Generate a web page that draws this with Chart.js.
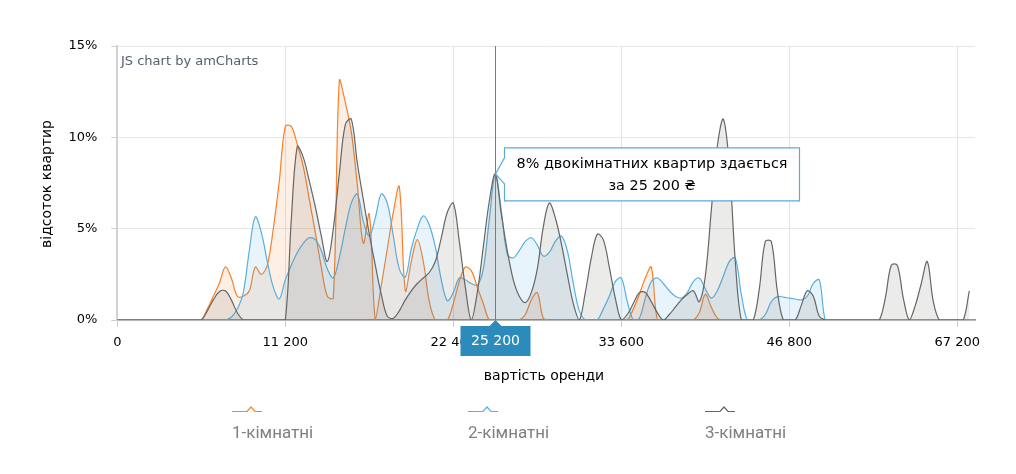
<!DOCTYPE html>
<html>
<head>
<meta charset="utf-8">
<script src="https://cdn.jsdelivr.net/npm/chart.js@4"></script>
<style>
  body { margin: 0; background: #fff; }
  #wrap { width: 1016px; height: 474px; position: relative; }
</style>
</head>
<body>
<div id="wrap"><canvas id="myChart" width="1016" height="474"></canvas></div>
<script>
// rent values (categories)
const rents = [
    0, 400, 800, 1200, 1600, 2000, 2400, 2800, 3200, 3600,
    4000, 4400, 4800, 5200, 5600, 6000, 6400, 6800, 7200, 7600,
    8000, 8400, 8800, 9200, 9600, 10000, 10400, 10800, 11200, 11600,
    12000, 12400, 12800, 13200, 13600, 14000, 14400, 14800, 15200, 15600,
    16000, 16400, 16800, 17200, 17600, 18000, 18400, 18800, 19200, 19600,
    20000, 20400, 20800, 21200, 21600, 22000, 22400, 22800, 23200, 23600,
    24000, 24400, 24800, 25200, 25600, 26000, 26400, 26800, 27200, 27600,
    28000, 28400, 28800, 29200, 29600, 30000, 30400, 30800, 31200, 31600,
    32000, 32400, 32800, 33200, 33600, 34000, 34400, 34800, 35200, 35600,
    36000, 36400, 36800, 37200, 37600, 38000, 38400, 38800, 39200, 39600,
    40000, 40400, 40800, 41200, 41600, 42000, 42400, 42800, 43200, 44000,
    44800, 45600, 46800, 47200, 47600, 48000, 48400, 48800, 49200, 49600,
    50000, 50400, 50800, 51200, 52000, 52800, 53600, 54400, 55200, 56000,
    57600, 58400, 59200, 60000, 60800, 62400, 63200, 64000, 64800, 66000,
    67200, 68000, 69600, 72000
];

const tickRents = [0, 11200, 22400, 33600, 46800, 67200];

// % of flats per rent value
const oneRoom = [
    0, 0, 0, 0, 0, 0, 0, 0, 0, 0,
    0, 0, 0, 0, 0, 0.6, 1.3, 2.0, 2.9, 2.3,
    1.3, 1.3, 1.6, 2.9, 2.5, 3.0, 5.0, 7.6, 10.6, 10.6,
    9.6, 8.4, 6.6, 4.8, 2.9, 1.3, 1.2, 13.1, 11.9, 10.3,
    7.4, 4.2, 5.8, 0, 1.9, 3.9, 5.9, 7.3, 1.6, 3.2,
    4.4, 3.2, 1.0, 0, 0, 0, 0.9, 2.1, 2.9, 2.7,
    1.8, 0.9, 0, 0, 0, 0, 0, 0, 0.3, 1.1,
    1.5, 0.1, 0, 0, 0, 0, 0, 0, 0, 0,
    0, 0, 0, 0, 0, 0, 0.6, 1.4, 2.3, 2.9,
    0, 0, 0, 0, 0, 0, 0, 0.4, 1.4, 0.7,
    0.1, 0, 0, 0, 0, 0, 0, 0, 0, 0,
    0, 0, 0, 0, 0, 0, 0, 0, 0, 0,
    0, 0, 0, 0, 0, 0, 0, 0, 0, 0,
    0, 0, 0, 0, 0, 0, 0, 0, 0, 0,
    0, 0, 0, 0
];

const twoRoom = [
    0, 0, 0, 0, 0, 0, 0, 0, 0, 0,
    0, 0, 0, 0, 0, 0, 0, 0, 0, 0.15,
    0.6, 1.5, 3.8, 5.65, 4.8, 3.2, 1.8, 1.15, 2.2, 3.0,
    3.7, 4.2, 4.5, 4.4, 3.8, 2.8, 2.3, 3.4, 5.0, 6.4,
    6.9, 5.4, 4.6, 5.6, 6.9, 6.4, 4.6, 2.8, 2.35, 3.9,
    5.0, 5.7, 5.2, 4.0, 2.2, 1.05, 1.5, 2.3, 2.2, 2.0,
    1.9, 2.8, 5.5, 8.0, 6.0, 3.6, 3.4, 3.8, 4.3, 4.5,
    4.1, 3.5, 3.7, 4.3, 4.6, 3.8, 2.0, 0.5, 0, 0,
    0, 0.6, 1.3, 2.1, 2.3, 1.0, 0, 0.1, 1.2, 2.1,
    2.3, 2.0, 1.6, 1.3, 1.2, 1.5, 2.1, 2.3, 1.7, 1.2,
    1.6, 2.4, 3.2, 3.4, 1.4, 0, 0, 0, 0.3, 1.0,
    1.28, 1.25, 1.2, 1.15, 1.1, 1.3, 2.0, 2.2, 0, 0,
    0, 0, 0, 0, 0, 0, 0, 0, 0, 0,
    0, 0, 0, 0, 0, 0, 0, 0, 0, 0,
    0, 0, 0, 0
];

const threeRoom = [
    0, 0, 0, 0, 0, 0, 0, 0, 0, 0,
    0, 0, 0, 0, 0, 0.5, 1.1, 1.55, 1.6, 1.1,
    0.4, 0, 0, 0, 0, 0, 0, 0, 0, 5.5,
    9.5, 8.9, 7.6, 6.2, 4.6, 3.2, 5.0, 8.0, 10.7, 11.0,
    8.6, 6.6, 4.7, 3.0, 1.4, 0.2, 0.1, 0.5, 1.1, 1.6,
    2.0, 2.3, 2.6, 3.2, 4.5, 5.9, 6.4, 4.3, 1.8, 0,
    1.5, 4.0, 6.5, 8.0, 5.8, 3.8, 2.2, 1.3, 0.95, 1.5,
    2.8, 5.1, 6.4, 5.6, 4.2, 2.5, 0.9, 0, 1.5, 3.4,
    4.7, 4.4, 2.9, 1.2, 0, 0.3, 0.9, 1.5, 1.5, 1.0,
    0.4, 0, 0.3, 0.7, 1.1, 1.4, 1.6, 1.0, 2.4, 6.0,
    9.5, 11.0, 8.5, 3.2, 0, 0, 0, 1.7, 4.3, 4.3,
    1.6, 0, 0, 0, 0.8, 1.6, 1.3, 0.2, 0, 0,
    0, 0, 0, 0, 0, 0, 0, 0, 1.2, 3.0,
    3.0, 1.2, 0, 0.8, 2.0, 3.2, 1.0, 0, 0, 0,
    0, 0, 1.6, null
];

const seriesNames = ["1-кімнатні", "2-кімнатні", "3-кімнатні"];
const seriesColors = ["#f5822d", "#5aafe0", "#666666"];
const seriesFills = ["rgba(245,130,45,0.13)", "rgba(90,175,224,0.14)", "rgba(100,100,90,0.13)"];

const cursorRent = 25200;

function fmt(n) {
    return n.toString().replace(/\B(?=(\d{3})+(?!\d))/g, " ");
}

const FONT = "'DejaVu Sans', Verdana, sans-serif";

const extras = {
    id: "extras",
    afterDraw(chart) {
        const ctx = chart.ctx;
        const xs = chart.scales.x, ys = chart.scales.y;
        const area = chart.chartArea;
        ctx.save();

        // watermark
        ctx.font = "13px " + FONT;
        ctx.fillStyle = "#54606e";
        ctx.textAlign = "left";
        ctx.textBaseline = "middle";
        ctx.fillText("JS chart by amCharts", 121, 62);

        // axis titles
        ctx.fillStyle = "#000";
        ctx.font = "14px " + FONT;
        ctx.textAlign = "center";
        ctx.fillText("вартість оренди", 544, 376);
        ctx.save();
        ctx.translate(47, 184);
        ctx.rotate(-Math.PI / 2);
        ctx.fillText("відсоток квартир", 0, 0);
        ctx.restore();

        // cursor
        const idx = rents.indexOf(cursorRent);
        const cx = Math.round(xs.getPixelForValue(idx)) + 0.5;
        ctx.strokeStyle = "#3b8fc2";
        ctx.lineWidth = 1;
        ctx.beginPath();
        ctx.moveTo(cx, area.top);
        ctx.lineTo(cx, area.bottom);
        ctx.stroke();

        // category balloon
        const by = area.bottom + 6;
        ctx.fillStyle = "#2b8bbb";
        ctx.beginPath();
        ctx.moveTo(cx - 35, by);
        ctx.lineTo(cx - 6, by);
        ctx.lineTo(cx, by - 6);
        ctx.lineTo(cx + 6, by);
        ctx.lineTo(cx + 35, by);
        ctx.lineTo(cx + 35, by + 30);
        ctx.lineTo(cx - 35, by + 30);
        ctx.closePath();
        ctx.fill();
        ctx.fillStyle = "#fff";
        ctx.font = "14px " + FONT;
        ctx.textAlign = "center";
        ctx.fillText(fmt(cursorRent), cx, by + 15);

        // value balloon
        const val = twoRoom[idx];
        const ty = ys.getPixelForValue(val);
        const bl = cx + 9, br = bl + 295, bt = ty - 26, bb = ty + 27;
        ctx.fillStyle = "#fff";
        ctx.strokeStyle = "#5aaad8";
        ctx.lineWidth = 1.2;
        ctx.beginPath();
        ctx.moveTo(bl, bt);
        ctx.lineTo(br, bt);
        ctx.lineTo(br, bb);
        ctx.lineTo(bl, bb);
        ctx.lineTo(bl, ty + 10);
        ctx.lineTo(cx, ty);
        ctx.lineTo(bl, ty - 16);
        ctx.closePath();
        ctx.fill();
        ctx.stroke();
        ctx.fillStyle = "#000";
        ctx.font = "14.4px " + FONT;
        const mid = (bl + br) / 2;
        ctx.fillText(val + "% двокімнатних квартир здається", mid, ty - 10);
        ctx.fillText("за " + fmt(cursorRent) + " ₴", mid, ty + 12);

        // legend
        const lx = [232, 468, 705];
        for (let i = 0; i < 3; i++) {
            const x = lx[i], y = 411.5;
            ctx.strokeStyle = seriesColors[i];
            ctx.lineWidth = 1.2;
            ctx.beginPath();
            ctx.moveTo(x, y);
            ctx.lineTo(x + 15, y);
            ctx.lineTo(x + 19, y - 4.5);
            ctx.lineTo(x + 23, y);
            ctx.lineTo(x + 30, y);
            ctx.stroke();
            ctx.fillStyle = "#808080";
            ctx.font = "17px Roboto, sans-serif";
            ctx.textAlign = "left";
            ctx.fillText(seriesNames[i], x, 434);
        }
        ctx.restore();
    }
};

const canvas = document.getElementById("myChart");
const data = {
    labels: rents,
    datasets: [oneRoom, twoRoom, threeRoom].map((vals, i) => ({
        label: seriesNames[i],
        data: vals,
        borderColor: seriesColors[i],
        backgroundColor: seriesFills[i],
        borderWidth: 1.2,
        fill: "origin",
        tension: 0.35,
        pointRadius: 0,
        order: 3 - i
    }))
};

const myChart = new Chart(canvas, {
    type: "line",
    data: data,
    options: {
        responsive: false,
        animation: false,
        layout: { padding: { top: 46, right: 1016 - 975.3, left: 0, bottom: 0 } },
        plugins: { legend: { display: false }, tooltip: { enabled: false } },
        scales: {
            x: {
                offset: false,
                afterFit: (s) => { s.height = 154; },
                grid: {
                    offset: false,
                    color: (c) => tickRents.includes(rents[c.index]) ? "#e3e3e3" : "rgba(0,0,0,0)",
                    tickColor: (c) => tickRents.includes(rents[c.index]) ? "#cfcfcf" : "rgba(0,0,0,0)",
                    tickLength: 7
                },
                border: { color: "#888", width: 1.5 },
                ticks: {
                    autoSkip: false,
                    maxRotation: 0,
                    minRotation: 0,
                    padding: 8,
                    color: "#000",
                    font: { family: FONT, size: 13 },
                    callback: (v, i) => tickRents.includes(rents[i]) ? fmt(rents[i]) : ""
                }
            },
            y: {
                min: 0,
                max: 15,
                afterFit: (s) => { s.width = 117.3; },
                grid: { color: "#e6e6e6", tickLength: 6, tickColor: "#cfcfcf" },
                border: { color: "#d2d2d2", width: 2 },
                ticks: {
                    stepSize: 5,
                    padding: 14,
                    color: "#000",
                    font: { family: FONT, size: 13 },
                    callback: (v) => v + "%"
                }
            }
        }
    },
    plugins: [extras]
});
</script>
</body>
</html>
